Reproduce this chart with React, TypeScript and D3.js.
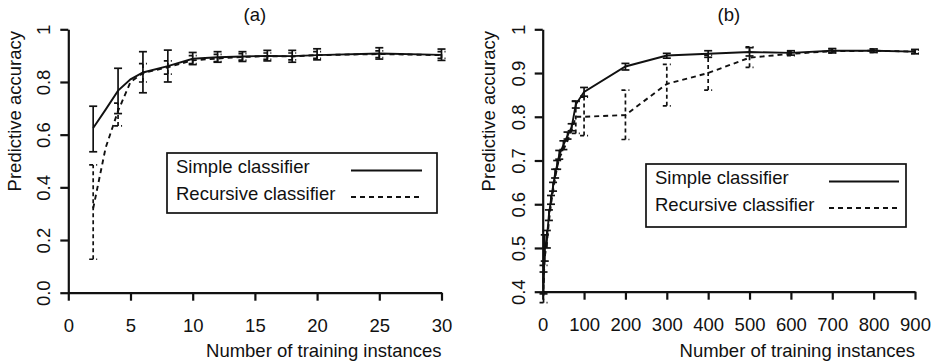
import React, { useRef, useEffect } from "react";
import * as d3 from "d3";

// ---- panel (a): small training sets ----
const aX = [2, 3, 4, 5, 6, 8, 10, 12, 14, 16, 18, 20, 25, 30];
const aSimple = [0.625, 0.695, 0.767, 0.81, 0.836, 0.86, 0.888, 0.894, 0.897, 0.899, 0.898, 0.902, 0.908, 0.903];
const aRecursive = [0.32, 0.55, 0.69, 0.8, 0.834, 0.856, 0.882, 0.889, 0.895, 0.898, 0.897, 0.902, 0.906, 0.902];

const aErrX = [2, 4, 6, 8, 10, 12, 14, 16, 18, 20, 25, 30];
const aSimpleLo = [0.535, 0.68, 0.759, 0.8, 0.866, 0.875, 0.878, 0.88, 0.875, 0.884, 0.887, 0.882];
const aSimpleHi = [0.708, 0.852, 0.915, 0.921, 0.912, 0.915, 0.915, 0.92, 0.92, 0.926, 0.93, 0.925];
const aRecursiveLo = [0.127, 0.633, 0.8, 0.83, 0.87, 0.877, 0.883, 0.886, 0.884, 0.89, 0.893, 0.89];
const aRecursiveHi = [0.485, 0.72, 0.87, 0.88, 0.9, 0.905, 0.908, 0.91, 0.91, 0.915, 0.918, 0.915];

const aXTicks = [0, 5, 10, 15, 20, 25, 30];
const aYTicks = [0, 0.2, 0.4, 0.6, 0.8, 1];
const aYLabels = ["0.0", "0.2", "0.4", "0.6", "0.8", "1"];

// ---- panel (b): large training sets ----
const bX = [2, 5, 10, 15, 20, 25, 30, 35, 40, 50, 60, 70, 80, 100, 200, 300, 400, 500, 600, 700, 800, 900];
const bSimple = [0.42, 0.5, 0.52, 0.575, 0.61, 0.64, 0.67, 0.69, 0.713, 0.735, 0.757, 0.776, 0.828, 0.857, 0.915, 0.94, 0.944, 0.948, 0.946, 0.951, 0.951, 0.949];
const bSimpleLo = [0.395, 0.47, 0.5, 0.563, 0.6, 0.63, 0.66, 0.68, 0.703, 0.725, 0.749, 0.768, 0.82, 0.847, 0.907, 0.934, 0.936, 0.939, 0.941, 0.946, 0.947, 0.944];
const bSimpleHi = [0.445, 0.53, 0.54, 0.587, 0.62, 0.65, 0.68, 0.7, 0.723, 0.745, 0.765, 0.784, 0.836, 0.867, 0.922, 0.945, 0.951, 0.958, 0.951, 0.956, 0.955, 0.954];
const bRecursive = [0.42, 0.48, 0.51, 0.56, 0.6, 0.63, 0.66, 0.685, 0.705, 0.725, 0.745, 0.77, 0.8, 0.8, 0.804, 0.875, 0.9, 0.935, 0.944, 0.95, 0.951, 0.949];

// recursive error bars that show in the figure
const bRecErrX = [2, 80, 100, 200, 300, 400, 500, 600, 700, 800, 900];
const bRecursiveLo = [0.375, 0.762, 0.757, 0.748, 0.825, 0.861, 0.913, 0.94, 0.946, 0.947, 0.945];
const bRecursiveHi = [0.46, 0.835, 0.845, 0.861, 0.92, 0.941, 0.96, 0.95, 0.955, 0.955, 0.953];

const bXTicks = [0, 100, 200, 300, 400, 500, 600, 700, 800, 900];
const bYTicks = [0.4, 0.5, 0.6, 0.7, 0.8, 0.9, 1];
const bYLabels = ["0.4", "0.5", "0.6", "0.7", "0.8", "0.9", "1"];

const seriesNames = ["Simple classifier", "Recursive classifier"];

const FONT = "'Liberation Sans', Arial, Helvetica, sans-serif";
const FS = 18.5;
const DASH = "5,4";

function drawPanel(svg: any, cfg: any) {
  const { x, y, title, xTicks, yTicks, yLabels, yLabelX, yTitleX, legend } = cfg;
  const g = svg.append("g");
  const [x0, x1] = x.range();
  const [y0] = y.range();

  // title
  g.append("text")
    .attr("x", (x0 + x1) / 2)
    .attr("y", 21)
    .attr("text-anchor", "middle")
    .attr("font-size", FS)
    .text(title);

  // x axis
  const xa = g.append("g")
    .attr("transform", `translate(0,${y0})`)
    .call(d3.axisBottom(x).tickValues(xTicks).tickSize(8).tickSizeOuter(0).tickFormat(d3.format("d")));
  xa.selectAll("text").attr("y", 39).attr("dy", 0).attr("font-size", FS).attr("font-family", FONT).attr("fill", "#111");

  // y axis, labels turned like R does
  const ya = g.append("g")
    .attr("transform", `translate(${x0},0)`)
    .call(d3.axisLeft(y).tickValues(yTicks).tickSize(8).tickSizeOuter(0).tickFormat((_: any, i: number) => yLabels[i]));
  ya.selectAll("text")
    .attr("x", 0)
    .attr("y", yLabelX - x0)
    .attr("dy", 0)
    .attr("transform", "rotate(-90)")
    .attr("text-anchor", "middle")
    .attr("font-size", FS)
    .attr("font-family", FONT)
    .attr("fill", "#111");
  g.selectAll(".domain, .tick line").attr("stroke", "#111").attr("stroke-width", 2.2);

  // axis titles
  g.append("text")
    .attr("x", x1)
    .attr("y", 357)
    .attr("text-anchor", "end")
    .attr("font-size", FS)
    .text("Number of training instances");
  g.append("text")
    .attr("transform", `translate(${yTitleX},31) rotate(-90)`)
    .attr("text-anchor", "end")
    .attr("font-size", FS)
    .text("Predictive accuracy");

  const line = d3.line<number>().x((d: any) => x(d[0])).y((d: any) => y(d[1]));

  cfg.series.forEach((s: any) => {
    const pts = s.xs.map((v: number, i: number) => [v, s.vals[i]]);
    g.append("path")
      .attr("d", line(pts))
      .attr("fill", "none")
      .attr("stroke", "#111")
      .attr("stroke-width", 1.9)
      .attr("stroke-dasharray", s.dashed ? DASH : null);

    const bars = g.append("g")
      .attr("stroke", "#111")
      .attr("stroke-width", 1.7)
      .attr("stroke-dasharray", s.dashed ? "4,3" : null);
    s.errX.forEach((v: number, i: number) => {
      const cx = x(v);
      bars.append("line").attr("x1", cx).attr("x2", cx).attr("y1", y(s.lo[i])).attr("y2", y(s.hi[i]));
      [s.lo[i], s.hi[i]].forEach((e: number) => {
        bars.append("line").attr("x1", cx - 4).attr("x2", cx + 4).attr("y1", y(e)).attr("y2", y(e)).attr("stroke-dasharray", null);
      });
    });
  });

  // legend
  const lg = g.append("g").attr("transform", `translate(${legend.x},${legend.y})`);
  lg.append("rect")
    .attr("width", legend.w)
    .attr("height", legend.h)
    .attr("fill", "white")
    .attr("stroke", "#111")
    .attr("stroke-width", 1.7);
  seriesNames.forEach((name, i) => {
    const ty = 20 + i * 26.5;
    lg.append("text").attr("x", 9).attr("y", ty).attr("font-size", FS).text(name);
    lg.append("line")
      .attr("x1", legend.lx1)
      .attr("x2", legend.lx2)
      .attr("y1", ty - 2.5)
      .attr("y2", ty - 2.5)
      .attr("stroke", "#111")
      .attr("stroke-width", 1.9)
      .attr("stroke-dasharray", i === 1 ? DASH : null);
  });
}

export default function App() {
  const svgRef = useRef<SVGSVGElement>(null);

  useEffect(() => {
    document.body.style.margin = "0";
    const svg = d3.select(svgRef.current);
    svg.selectAll("*").remove();
    svg.attr("font-family", FONT).attr("fill", "#111");

    drawPanel(svg, {
      title: "(a)",
      x: d3.scaleLinear().domain([0, 30]).range([68.3, 441.5]),
      y: d3.scaleLinear().domain([0, 1]).range([292.7, 29.3]),
      xTicks: aXTicks,
      yTicks: aYTicks,
      yLabels: aYLabels,
      yLabelX: 50,
      yTitleX: 21,
      legend: { x: 167, y: 153, w: 270, h: 60, lx1: 184, lx2: 255 },
      series: [
        { xs: aX, vals: aSimple, errX: aErrX, lo: aSimpleLo, hi: aSimpleHi, dashed: false },
        { xs: aX, vals: aRecursive, errX: aErrX, lo: aRecursiveLo, hi: aRecursiveHi, dashed: true },
      ],
    });

    drawPanel(svg, {
      title: "(b)",
      x: d3.scaleLinear().domain([0, 900]).range([542.7, 915]),
      y: d3.scaleLinear().domain([0.4, 1]).range([291.7, 29.3]),
      xTicks: bXTicks,
      yTicks: bYTicks,
      yLabels: bYLabels,
      yLabelX: 525,
      yTitleX: 495,
      legend: { x: 646, y: 164, w: 260, h: 63, lx1: 183, lx2: 253 },
      series: [
        { xs: bX, vals: bSimple, errX: bX, lo: bSimpleLo, hi: bSimpleHi, dashed: false },
        { xs: bX, vals: bRecursive, errX: bRecErrX, lo: bRecursiveLo, hi: bRecursiveHi, dashed: true },
      ],
    });
  }, []);

  return <svg ref={svgRef} width={937} height={364} style={{ display: "block", background: "white" }} />;
}
